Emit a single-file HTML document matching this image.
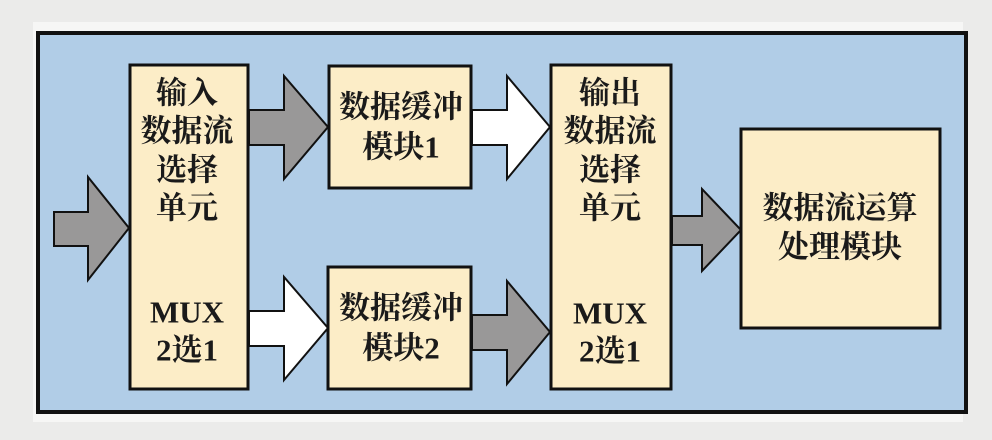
<!DOCTYPE html>
<html><head><meta charset="utf-8"><style>
html,body{margin:0;padding:0;background:#ebebea;}
svg{display:block}
text{font-family:"Liberation Serif","Noto Serif CJK SC",serif;font-weight:bold;font-size:31px;fill:#1a1a1a;text-anchor:middle;dominant-baseline:central}
</style></head><body>
<svg width="992" height="440" viewBox="0 0 992 440">
<rect x="0" y="0" width="992" height="440" fill="#ebebea"/>
<rect x="33" y="22" width="930" height="400" fill="#f6f6f5"/>
<rect x="38" y="33" width="928" height="379" fill="#b1cde7" stroke="#111" stroke-width="4"/>
<g stroke="#111" stroke-width="3">
<rect x="130" y="65" width="118" height="324" fill="#fcedc7"/>
<rect x="329" y="66" width="142" height="122" fill="#fcedc7"/>
<rect x="328" y="267" width="143" height="122" fill="#fcedc7"/>
<rect x="551" y="65" width="120" height="324" fill="#fcedc7"/>
<rect x="741" y="129" width="199" height="199" fill="#fcedc7"/>
</g>
<g stroke="#111" stroke-width="2" stroke-linejoin="miter">
<polygon points="54,212 88,212 88,177 129,228 88,280 88,246 54,246" fill="#999898"/>
<polygon points="249,110 284,110 284,76 328,127 284,179 284,145 249,145" fill="#999898"/>
<polygon points="472,110 507,110 507,76 550,127 507,179 507,145 472,145" fill="#ffffff"/>
<polygon points="249,311 284,311 284,277 328,328 284,380 284,346 249,346" fill="#ffffff"/>
<polygon points="472,315 507,315 507,281 550,332 507,384 507,350 472,350" fill="#999898"/>
<polygon points="672,216 702,216 702,189 741,230 702,271 702,245 672,245" fill="#999898"/>
</g>
<text x="187" y="93">输入</text>
<text x="187" y="131">数据流</text>
<text x="187" y="170">选择</text>
<text x="187" y="208">单元</text>
<text x="187" y="312">MUX</text>
<text x="187" y="350">2选1</text>
<text x="401" y="107">数据缓冲</text>
<text x="401" y="147">模块1</text>
<text x="401" y="308">数据缓冲</text>
<text x="401" y="348">模块2</text>
<text x="610" y="93">输出</text>
<text x="610" y="131">数据流</text>
<text x="610" y="170">选择</text>
<text x="610" y="208">单元</text>
<text x="610" y="313">MUX</text>
<text x="610" y="351">2选1</text>
<text x="840" y="208">数据流运算</text>
<text x="840" y="247">处理模块</text>
</svg>
</body></html>
